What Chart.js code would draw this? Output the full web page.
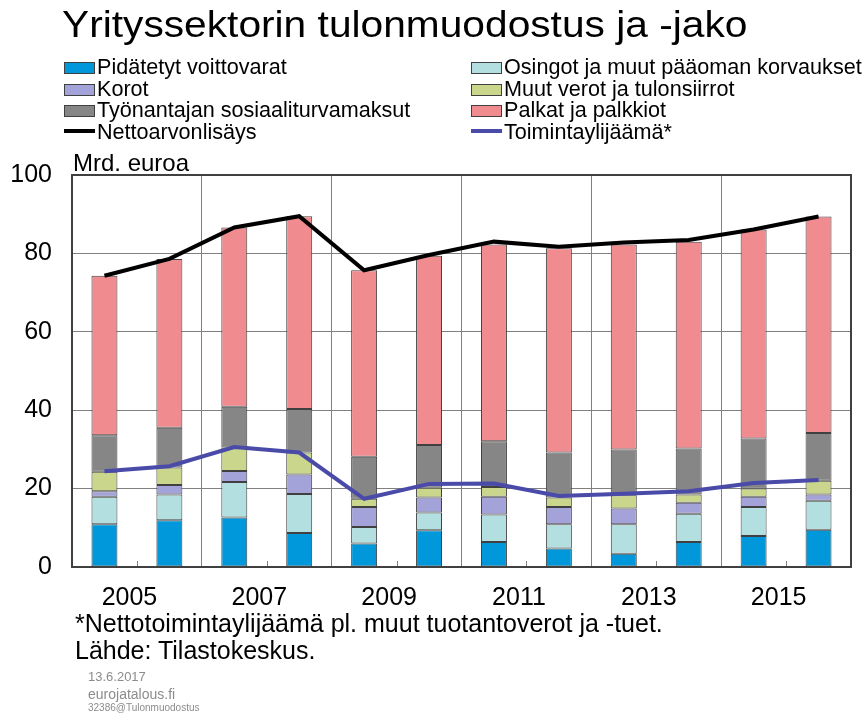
<!DOCTYPE html>
<html>
<head>
<meta charset="utf-8">
<script src="https://cdn.jsdelivr.net/npm/chart.js@4"></script>
<style>
  body { margin: 0; background: #fff; font-family: "Liberation Sans", Arial, sans-serif; color: #000; }
  #wrap { position: relative; width: 866px; height: 715px; overflow: hidden; }
  #chart { position: absolute; left: 0; top: 0; }
  .txt { position: absolute; white-space: nowrap; line-height: 1; }
  .lg { position: absolute; white-space: nowrap; line-height: 1; font-size: 21.6px; }
  .sw { position: absolute; left: -33px; top: 6px; width: 29px; height: 10px; border: 1px solid #404040; }
  .ln { position: absolute; left: -33px; top: 8px; width: 31px; height: 4px; }
</style>
</head>
<body>
<div id="wrap">
  <canvas id="chart" width="866" height="715"></canvas>
  <div class="txt" style="left:62px; top:6px; font-size:37px; transform:scaleX(1.1); transform-origin:left top;">Yrityssektorin tulonmuodostus ja -jako</div>
  <div id="legend"></div>
  <div class="txt" style="left:73px; top:151px; font-size:24px;">Mrd. euroa</div>
  <div class="txt" style="left:75px; top:611px; font-size:25px;">*Nettotoimintaylijäämä pl. muut tuotantoverot ja -tuet.</div>
  <div class="txt" style="left:75px; top:638px; font-size:25px;">Lähde: Tilastokeskus.</div>
  <div class="txt" style="left:88px; top:670px; font-size:13px; color:#8c8c8c;">13.6.2017</div>
  <div class="txt" style="left:88px; top:687px; font-size:14px; color:#8c8c8c;">eurojatalous.fi</div>
  <div class="txt" style="left:88px; top:703px; font-size:10px; color:#8c8c8c;">32386@Tulonmuodostus</div>
</div>
<script>
// vuodet ja sarjat (Mrd. euroa)
const years = ['2005', '2006', '2007', '2008', '2009', '2010', '2011', '2012', '2013', '2014', '2015', '2016'];
const pidatetyt = [10.9, 11.9, 12.6, 8.7, 6.0, 9.4, 6.4, 4.7, 3.4, 6.4, 7.9, 9.5];
const osingot = [7.0, 6.6, 9.1, 9.9, 4.2, 4.5, 7.0, 6.2, 7.5, 7.2, 7.4, 7.4];
const korot = [1.4, 2.4, 2.8, 5.0, 5.1, 3.8, 4.5, 4.4, 4.0, 2.8, 2.6, 1.6];
const muutVerot = [5.0, 4.5, 6.0, 5.6, 2.1, 2.5, 2.5, 2.4, 3.4, 2.1, 2.1, 3.5];
const tyonantajan = [9.3, 10.1, 10.4, 11.1, 10.7, 10.9, 11.7, 11.5, 11.7, 11.7, 12.8, 12.2];
const palkat = [40.7, 43.1, 45.7, 49.2, 47.6, 48.3, 50.2, 52.1, 52.3, 52.8, 53.3, 55.2];
const nettoarvonlisays = [74.3, 78.6, 86.6, 89.5, 75.7, 79.6, 83.0, 81.7, 82.8, 83.4, 86.1, 89.4];
const toimintaylijaama = [24.4, 25.7, 30.6, 29.2, 17.4, 21.2, 21.3, 18.1, 18.7, 19.3, 21.4, 22.2];
const yTicks = [0, 20, 40, 60, 80, 100];

function barSet(label, data, color) {
    return {
        type: 'bar', label: label, data: data, backgroundColor: color,
        borderColor: '#404040', borderWidth: 1, borderSkipped: false,
        barPercentage: 0.4, categoryPercentage: 1, stack: 'bars', order: 1
    };
}
function lineSet(label, data, color, stack) {
    return {
        type: 'line', label: label, data: data, borderColor: color, backgroundColor: color,
        borderWidth: 4, pointRadius: 0, tension: 0, stack: stack, order: 0
    };
}

const datasets = [
    barSet('Pidätetyt voittovarat', pidatetyt, '#0098db'),
    barSet('Osingot ja muut pääoman korvaukset', osingot, '#b4dfe1'),
    barSet('Korot', korot, '#a3a3d9'),
    barSet('Muut verot ja tulonsiirrot', muutVerot, '#c9d68c'),
    barSet('Työnantajan sosiaaliturvamaksut', tyonantajan, '#868686'),
    barSet('Palkat ja palkkiot', palkat, '#f08c90'),
    lineSet('Nettoarvonlisäys', nettoarvonlisays, '#000000', 'l1'),
    lineSet('Toimintaylijäämä*', toimintaylijaama, '#4a4aa8', 'l2')
];

// selite kahteen sarakkeeseen
const legend = document.getElementById('legend');
datasets.forEach((ds, i) => {
    const row = Math.floor(i / 2), col = i % 2;
    const el = document.createElement('div');
    el.className = 'lg';
    el.style.left = (col === 0 ? 97 : 504) + 'px';
    el.style.top = (56 + row * 21.6) + 'px';
    const mark = document.createElement('span');
    mark.className = ds.type === 'bar' ? 'sw' : 'ln';
    mark.style.background = ds.backgroundColor;
    el.appendChild(mark);
    el.appendChild(document.createTextNode(ds.label));
    legend.appendChild(el);
});

// kehys ja pienet väliviivat
const framePlugin = {
    id: 'frame',
    afterDatasetsDraw(chart) {
        const { ctx, chartArea: a, scales: { x } } = chart;
        ctx.save();
        ctx.strokeStyle = '#808080';
        ctx.lineWidth = 1;
        for (let i = 1; i < years.length; i += 2) {
            const px = Math.round((x.getPixelForValue(i - 1) + x.getPixelForValue(i)) / 2) + 0.5;
            ctx.beginPath();
            ctx.moveTo(px, a.bottom);
            ctx.lineTo(px, a.bottom - 6);
            ctx.stroke();
        }
        ctx.strokeStyle = '#404040';
        ctx.lineWidth = 2;
        ctx.strokeRect(a.left, a.top, a.right - a.left, a.bottom - a.top);
        ctx.restore();
    }
};

new Chart(document.getElementById('chart'), {
    data: { labels: years, datasets: datasets },
    options: {
        responsive: false,
        animation: false,
        layout: { padding: { top: 175, right: 15, bottom: 98, left: 0 } },
        plugins: { legend: { display: false }, tooltip: { enabled: false } },
        scales: {
            x: {
                stacked: true,
                offset: true,
                afterFit: (scale) => { scale.height = 50; },
                grid: {
                    offset: true,
                    drawTicks: false,
                    color: (c) => (c.index !== undefined && c.index % 2 === 0) ? '#808080' : 'rgba(0,0,0,0)'
                },
                border: { display: false },
                ticks: {
                    autoSkip: false, maxRotation: 0, padding: 16, labelOffset: 25,
                    color: '#000', font: { family: '"Liberation Sans", Arial', size: 25 },
                    callback: (v, i) => i % 2 === 0 ? years[i] : ''
                }
            },
            y: {
                stacked: true,
                min: yTicks[0], max: yTicks[yTicks.length - 1],
                afterFit: (scale) => { scale.width = 72; },
                afterBuildTicks: (scale) => { scale.ticks = yTicks.map(v => ({ value: v })); },
                grid: { color: '#808080', drawTicks: false },
                border: { display: false },
                ticks: {
                    padding: 20, color: '#000',
                    font: { family: '"Liberation Sans", Arial', size: 25 }
                }
            }
        }
    },
    plugins: [framePlugin]
});
</script>
</body>
</html>
